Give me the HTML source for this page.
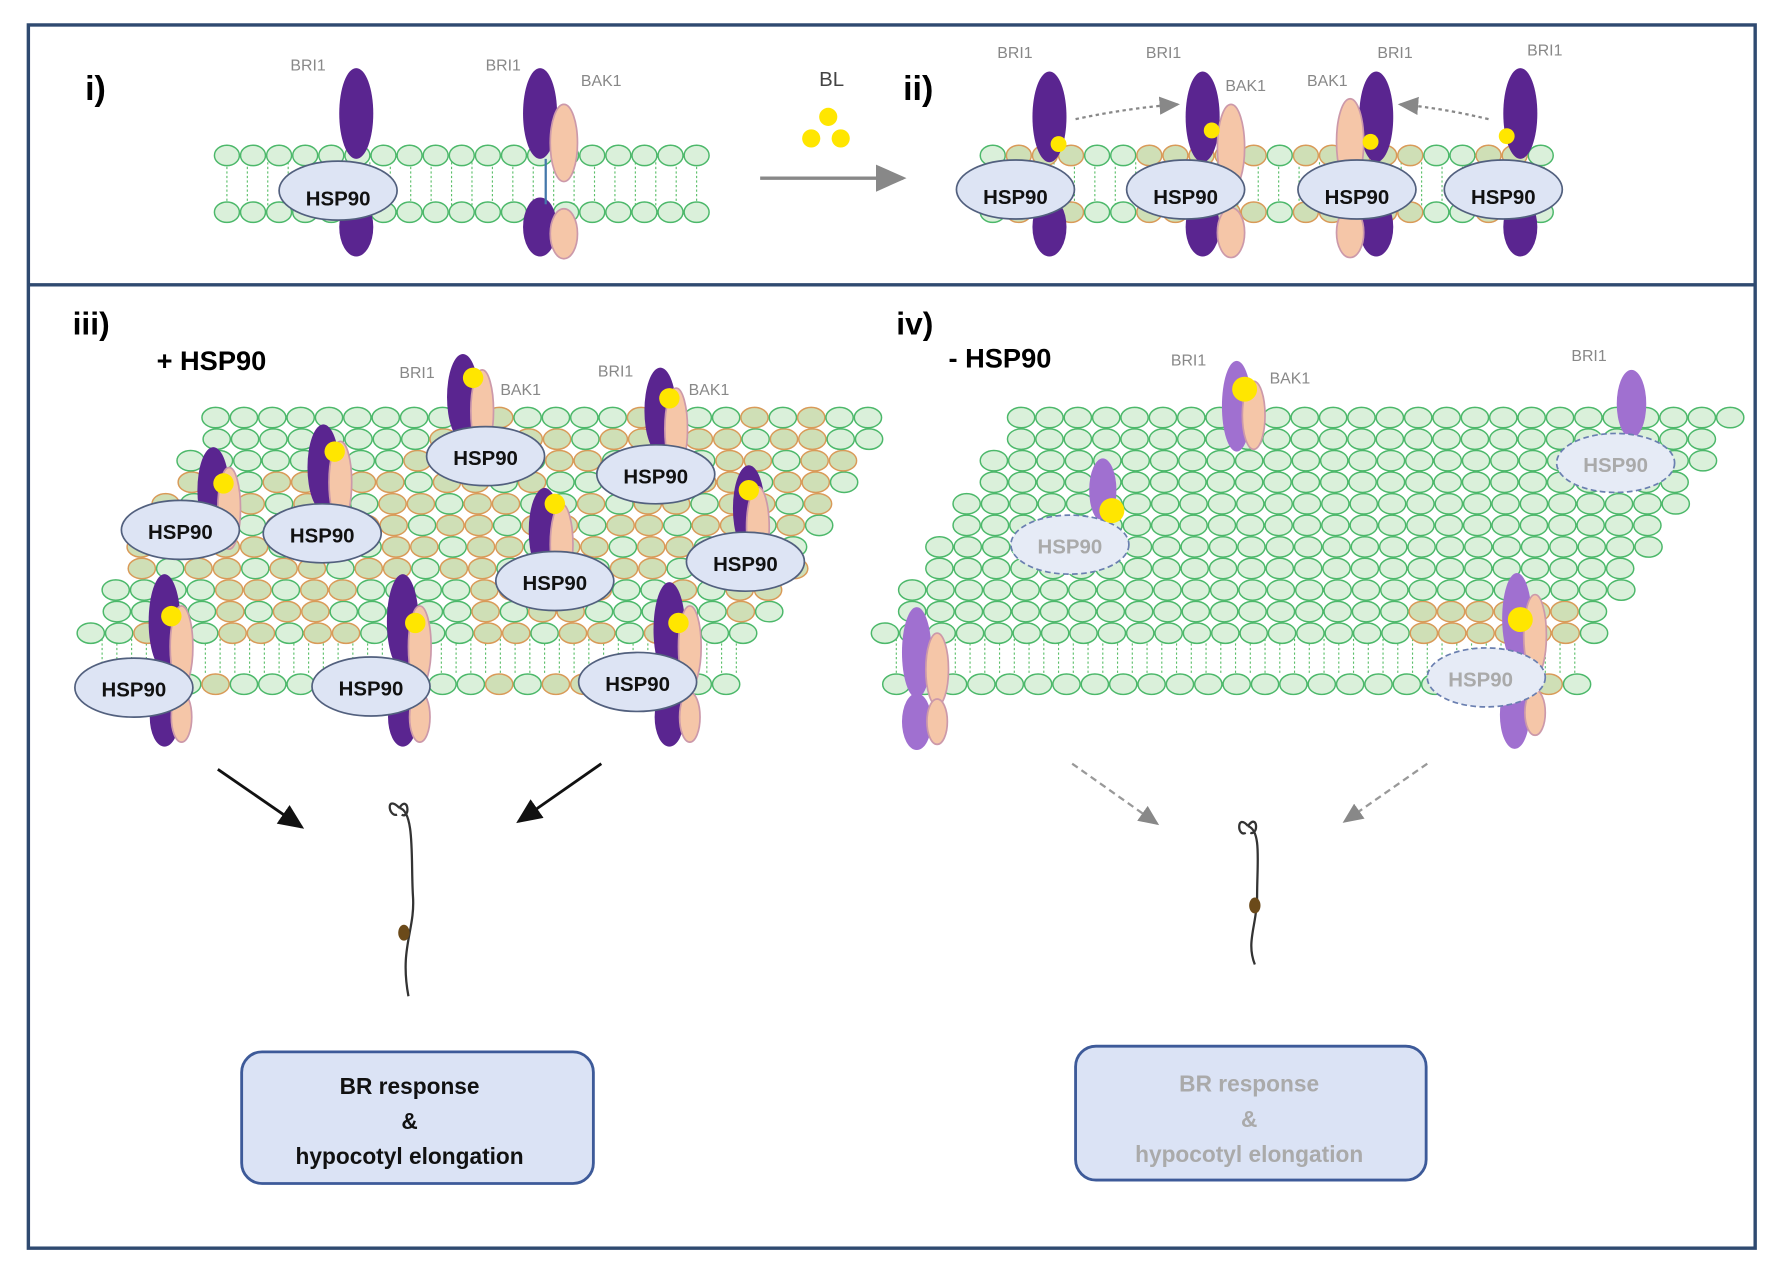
<!DOCTYPE html>
<html><head><meta charset="utf-8"><style>
html,body{margin:0;padding:0;background:#fff;width:1779px;height:1272px;overflow:hidden}
svg{display:block}
text{font-family:"Liberation Sans",sans-serif}
.lb{font-size:14px;fill:#888}
.h{font-size:20px;font-weight:bold;fill:#111;text-anchor:middle}
.hg{font-size:20px;font-weight:bold;fill:#aaa;text-anchor:middle}
</style></head><body>
<svg id="s" width="1779" height="1272" viewBox="0 0 1568 1121" preserveAspectRatio="none" xmlns="http://www.w3.org/2000/svg">
<defs>
<marker id="ab" markerWidth="10" markerHeight="10" refX="8" refY="5" orient="auto"><path d="M0,1 L9,5 L0,9 Z" fill="#111"/></marker>
<marker id="ag" markerWidth="10" markerHeight="10" refX="8" refY="5" orient="auto"><path d="M0,1 L9,5 L0,9 Z" fill="#888"/></marker>
</defs>
<rect width="1568" height="1121" fill="#fff"/>
<g id="mem"></g>
<g id="cx"></g>
<rect x="25" y="22" width="1522" height="1078" fill="none" stroke="#2f4a70" stroke-width="3"/>
<line x1="25" y1="251" x2="1547" y2="251" stroke="#2f4a70" stroke-width="3"/>
<text x="75" y="88" font-size="30" font-weight="bold">i)</text>
<text x="796" y="88" font-size="30" font-weight="bold">ii)</text>
<text x="64" y="295" font-size="28" font-weight="bold">iii)</text>
<text x="790" y="295" font-size="28" font-weight="bold">iv)</text>
<text x="138" y="326" font-size="24" font-weight="bold">+ HSP90</text>
<text x="836" y="324" font-size="24" font-weight="bold">- HSP90</text>
<text x="256" y="62" class="lb">BRI1</text>
<text x="428" y="62" class="lb">BRI1</text>
<text x="512" y="76" class="lb">BAK1</text>
<text x="722" y="76" font-size="18" fill="#444">BL</text>
<text x="879" y="51" class="lb">BRI1</text>
<text x="1010" y="51" class="lb">BRI1</text>
<text x="1080" y="80" class="lb">BAK1</text>
<text x="1152" y="76" class="lb">BAK1</text>
<text x="1214" y="51" class="lb">BRI1</text>
<text x="1346" y="49" class="lb">BRI1</text>
<text x="352" y="333" class="lb">BRI1</text>
<text x="441" y="348" class="lb">BAK1</text>
<text x="527" y="332" class="lb">BRI1</text>
<text x="607" y="348" class="lb">BAK1</text>
<text x="1032" y="322" class="lb">BRI1</text>
<text x="1119" y="338" class="lb">BAK1</text>
<text x="1385" y="318" class="lb">BRI1</text>
<circle cx="730" cy="103" r="8" fill="#ffe600"/><circle cx="715" cy="122" r="8" fill="#ffe600"/><circle cx="741" cy="122" r="8" fill="#ffe600"/>
<line x1="670" y1="157" x2="796" y2="157" stroke="#888" stroke-width="3" marker-end="url(#ag)"/>
<path d="M948,105 Q995,95 1038,92" fill="none" stroke="#888" stroke-width="2" stroke-dasharray="3,3" marker-end="url(#ag)"/>
<path d="M1312,105 Q1270,95 1234,92" fill="none" stroke="#888" stroke-width="2" stroke-dasharray="3,3" marker-end="url(#ag)"/>
<line x1="192" y1="678" x2="266" y2="729" stroke="#111" stroke-width="2.5" marker-end="url(#ab)"/>
<line x1="530" y1="673" x2="457" y2="724" stroke="#111" stroke-width="2.5" marker-end="url(#ab)"/>
<line x1="945" y1="673" x2="1020" y2="726" stroke="#999" stroke-width="2" stroke-dasharray="6,4" marker-end="url(#ag)"/>
<line x1="1258" y1="673" x2="1185" y2="724" stroke="#999" stroke-width="2" stroke-dasharray="6,4" marker-end="url(#ag)"/>
<g fill="none" stroke="#333" stroke-width="2">
<path d="M352,712 C366,715 362,760 364,790 C366,820 352,835 360,878"/>
<path d="M352,712 C340,700 342,720 350,718 M352,712 C360,700 362,722 354,718"/>
<path d="M1100,728 C1112,732 1108,760 1108,790 C1108,815 1098,830 1106,850"/>
<path d="M1100,728 C1090,716 1090,738 1098,734 M1100,728 C1108,716 1110,736 1102,734"/>
</g>
<ellipse cx="356" cy="822" rx="5" ry="7" fill="#6b4a1a"/>
<ellipse cx="1106" cy="798" rx="5" ry="7" fill="#6b4a1a"/>
<rect x="213" y="927" width="310" height="116" rx="18" fill="#dbe3f5" stroke="#3d5a99" stroke-width="2.5"/>
<text x="361" y="964" class="h">BR response</text>
<text x="361" y="995" class="h">&amp;</text>
<text x="361" y="1026" class="h">hypocotyl elongation</text>
<rect x="948" y="922" width="309" height="118" rx="18" fill="#dbe3f5" stroke="#3d5a99" stroke-width="2.5"/>
<text x="1101" y="962" class="hg">BR response</text>
<text x="1101" y="993" class="hg">&amp;</text>
<text x="1101" y="1024" class="hg">hypocotyl elongation</text>
<g id="txt" font-size="18" font-weight="bold" text-anchor="middle">
<text x="298" y="181" fill="#111">HSP90</text>
<text x="895" y="180" fill="#111">HSP90</text>
<text x="1045" y="180" fill="#111">HSP90</text>
<text x="1196" y="180" fill="#111">HSP90</text>
<text x="1325" y="180" fill="#111">HSP90</text>
<text x="428" y="410" fill="#111">HSP90</text>
<text x="578" y="426" fill="#111">HSP90</text>
<text x="159" y="475" fill="#111">HSP90</text>
<text x="284" y="478" fill="#111">HSP90</text>
<text x="489" y="520" fill="#111">HSP90</text>
<text x="657" y="503" fill="#111">HSP90</text>
<text x="118" y="614" fill="#111">HSP90</text>
<text x="327" y="613" fill="#111">HSP90</text>
<text x="562" y="609" fill="#111">HSP90</text>
<text x="1424" y="416" fill="#aaa">HSP90</text>
<text x="943" y="488" fill="#aaa">HSP90</text>
<text x="1305" y="605" fill="#aaa">HSP90</text>
</g>
</svg>
<script>
var NS="http://www.w3.org/2000/svg",mem=document.getElementById('mem'),cx=document.getElementById('cx');
function el(p,t,a){var e=document.createElementNS(NS,t);for(var k in a)e.setAttribute(k,a[k]);p.appendChild(e);return e;}
var G={fill:"#daf0da",stroke:"#4cb86a"},O={fill:"#cfdfb6",stroke:"#d99a58"};
function cell(x,y,o,rx){var c=o?O:G;el(mem,'ellipse',{cx:x,cy:y,rx:rx||12,ry:9,fill:c.fill,stroke:c.stroke,'stroke-width':1.3});}
function bilayer(x0,x1,yt,yb,orangeFn){
 for(var x=x0;x<=x1;x+=18){el(mem,'line',{x1:x,y1:yt+6,x2:x,y2:yb-6,stroke:"#5cbf6a",'stroke-width':1,'stroke-dasharray':'2,2'});}
 for(var x=x0;x<=x1;x+=23){var o=orangeFn(x);cell(x,yt,o,11);cell(x,yb,o,11);}
}
bilayer(200,620,137,187,function(){return false});
bilayer(875,1365,137,187,function(x){return (x>890&&x<960)||(x>1010&&x<1110)||(x>1150&&x<1250)||(x>1290&&x<1350)});
function sheet(xs,xe,y0,rows,dy,shift,orangeFn){
 var by=y0+rows*dy+45;
 var bx0=xs-shift*rows+10,bx1=xe-shift*rows-15;
 for(var x=bx0;x<=bx1;x+=13)el(mem,'line',{x1:x,y1:by-44,x2:x,y2:by-8,stroke:"#5cbf6a",'stroke-width':1,'stroke-dasharray':'2,2'});
 for(var x=bx0;x<=bx1;x+=25)cell(x,by,orangeFn(x,by));
 for(var r=rows;r>=0;r--){var y=y0+r*dy,off=xs-r*shift+(r%2?12:0);
  for(var x=off;x<=xe-r*shift;x+=25)cell(x,y,orangeFn(x,y));}
}
function near(list,d){return function(x,y){for(var i=0;i<list.length;i++){var a=list[i];var dx=x-a[0],dy=(y-a[1])*1.4;if(dx*dx+dy*dy<d*d)return true;}return false;}}
var iii=[[428,400],[578,410],[170,470],[290,460],[489,500],[650,490],[130,600],[340,600],[570,600],[380,460],[560,470],[250,530],[470,560],[700,410]];
sheet(190,780,368,10,19,11,function(x,y){var f=near(iii,70)(x,y);return f&&(((x*7+y*3)|0)%3!=0)});
var iv=[[1345,560],[1320,610],[1290,560]];
sheet(900,1530,368,10,19,12,near(iv,55));
function E(cxx,cy,rx,ry,f,s,dash){var a={cx:cxx,cy:cy,rx:rx,ry:ry,fill:f};if(s){a.stroke=s;a['stroke-width']=1.5;}if(dash)a['stroke-dasharray']='5,3';el(cx,'ellipse',a);}
var P="#5a2590",K="#f5c6a8",Y="#ffe600",H="#dde4f4",HS="#52607e",LP="#a070d0";
function hsp(x,y,light){E(x,y,52,26,light?"#e6ebf6":H,light?"#6a7fb0":HS,light);}
E(314,100,15,40,P);E(314,200,15,26,P);hsp(298,168);
E(476,100,15,40,P);E(476,200,15,26,P);E(497,126,12,34,K,"#c9a");E(497,206,12,22,K,"#c9a");
el(cx,'line',{x1:481,y1:140,x2:481,y2:180,stroke:"#47a",'stroke-width':2});
E(925,103,15,40,P);E(925,200,15,26,P);hsp(895,167);E(933,127,7,7,Y);
E(1060,103,15,40,P);E(1060,200,15,26,P);E(1085,130,12,38,K,"#c9a");E(1085,205,12,22,K,"#c9a");hsp(1045,167);E(1068,115,7,7,Y);
E(1213,103,15,40,P);E(1213,200,15,26,P);E(1190,125,12,38,K,"#c9a");E(1190,205,12,22,K,"#c9a");hsp(1196,167);E(1208,125,7,7,Y);
E(1340,100,15,40,P);E(1340,200,15,26,P);hsp(1325,167);E(1328,120,7,7,Y);
var C=[[408,350,425,362,417,333,428,402],[582,362,596,378,590,351,578,418],[188,432,202,448,197,426,159,467],[285,412,300,425,295,398,284,470],[480,468,495,480,489,444,489,512],[660,448,668,465,660,432,657,495]];
C.forEach(function(c){E(c[0],c[1],14,38,P);E(c[2],c[3],10,36,K,"#c9a");E(c[4],c[5],9,9,Y);hsp(c[6],c[7]);});
var D=[[145,548,160,118,606,151,543],[355,548,370,327,605,366,549],[590,555,608,562,601,598,549]];
D.forEach(function(d){E(d[0],d[1],14,42,P);E(d[0],632,13,26,P);E(d[2],570,10,36,K,"#c9a");E(d[2],632,9,22,K,"#c9a");E(d[5],d[6],9,9,Y);hsp(d[3],d[4]);});
E(1090,358,13,40,LP);E(1105,366,10,30,K,"#c9a");E(1097,343,11,11,Y);
E(1438,356,13,30,LP);hsp(1424,408,1);
E(972,432,12,28,LP);hsp(943,480,1);E(980,450,11,11,Y);
E(1337,545,13,40,LP);E(1335,630,13,30,LP);E(1353,560,10,36,K,"#c9a");E(1353,628,9,20,K,"#c9a");hsp(1310,597,1);E(1340,546,11,11,Y);
E(808,575,13,40,LP);E(808,636,13,25,LP);E(826,590,10,32,K,"#c9a");E(826,636,9,20,K,"#c9a");
</script>
</body></html>
